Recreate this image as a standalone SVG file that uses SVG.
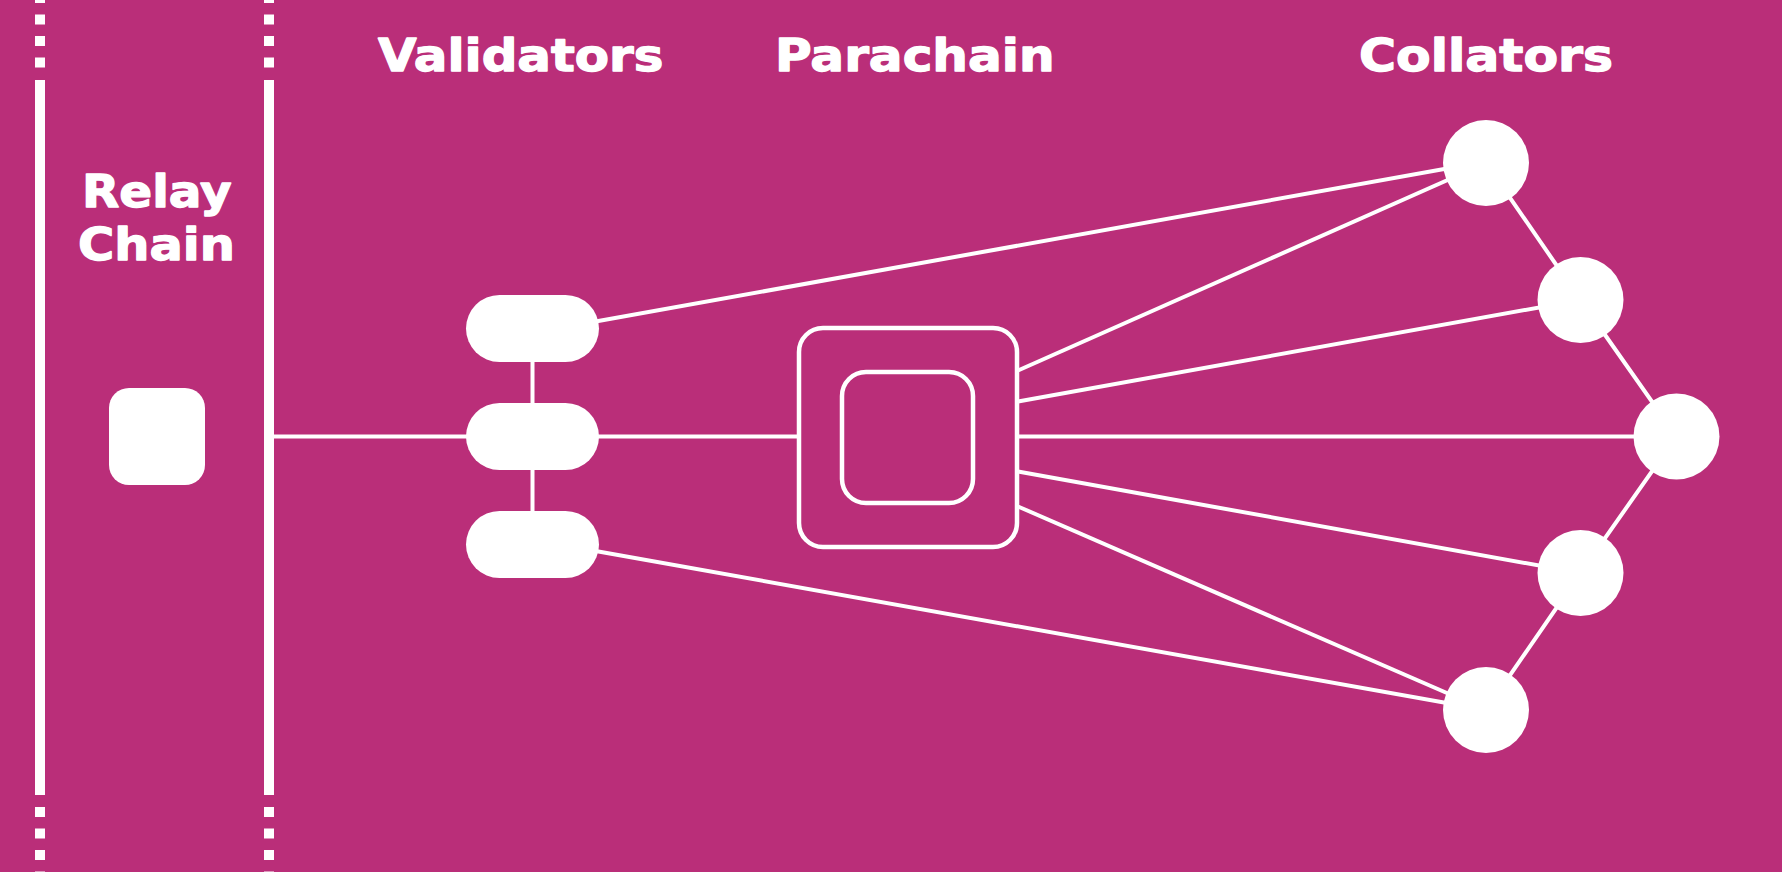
<svg xmlns="http://www.w3.org/2000/svg" width="1782" height="872" viewBox="0 0 1782 872">
  <style>
    .lbl { fill: #ffffff; stroke: #ffffff; stroke-width: 1.3; stroke-linejoin: round; font-family: "DejaVu Sans", "Liberation Sans", sans-serif; font-weight: bold; font-size: 45px; }
    .conn { stroke: #ffffff; stroke-width: 4; fill: none; stroke-linecap: butt; }
    .rail { stroke: #ffffff; stroke-width: 10; fill: none; }
    .dots { stroke: #ffffff; stroke-width: 10; fill: none; stroke-dasharray: 10 11.5; }
    .solid { fill: #ffffff; }
    .frame { fill: none; stroke: #ffffff; stroke-width: 4.5; }
  </style>
  <rect x="0" y="0" width="1782" height="872" fill="#BA2E79"/>

  <g id="rails">
    <line class="dots" x1="40" y1="-7" x2="40" y2="70"/>
    <line class="rail" x1="40" y1="80" x2="40" y2="795"/>
    <line class="dots" x1="40" y1="807" x2="40" y2="872"/>
    <line class="dots" x1="269" y1="-7" x2="269" y2="70"/>
    <line class="rail" x1="269" y1="80" x2="269" y2="795"/>
    <line class="dots" x1="269" y1="807" x2="269" y2="872"/>
  </g>

  <g id="headings">
    <text class="lbl" transform="translate(378,71) scale(1.108,1)">Validators</text>
    <text class="lbl" transform="translate(775,71) scale(1.113,1)">Parachain</text>
    <text class="lbl" transform="translate(1359,71) scale(1.121,1)">Collators</text>
  </g>

  <g id="connectors">
    <line class="conn" x1="271" y1="436.5" x2="470" y2="436.5"/>
    <line class="conn" x1="532.5" y1="340" x2="532.5" y2="540"/>
    <line class="conn" x1="590" y1="322.5" x2="1486" y2="161.5"/>
    <line class="conn" x1="590" y1="436.5" x2="800" y2="436.5"/>
    <line class="conn" x1="590" y1="550" x2="1486" y2="710"/>
    <line class="conn" x1="1018" y1="370.5" x2="1486" y2="163"/>
    <line class="conn" x1="1018" y1="401.5" x2="1580.5" y2="300"/>
    <line class="conn" x1="1018" y1="436.5" x2="1676.5" y2="436.5"/>
    <line class="conn" x1="1018" y1="471.5" x2="1580.5" y2="573"/>
    <line class="conn" x1="1018" y1="506.5" x2="1486" y2="710"/>
    <polyline class="conn" points="1486,163 1580.5,300 1676.5,436.5 1580.5,573 1486,710"/>
  </g>

  <g id="relay-chain">
    <text class="lbl" transform="translate(82,207) scale(1.078,1)">Relay</text>
    <text class="lbl" transform="translate(78,260) scale(1.098,1)">Chain</text>
    <rect class="solid" x="109" y="388" width="96" height="97" rx="20"/>
  </g>

  <g id="validator-1"><rect class="solid" x="466" y="295" width="133" height="67" rx="33.5"/></g>
  <g id="validator-2"><rect class="solid" x="466" y="403" width="133" height="67" rx="33.5"/></g>
  <g id="validator-3"><rect class="solid" x="466" y="511" width="133" height="67" rx="33.5"/></g>

  <g id="parachain">
    <rect class="frame" x="799" y="328" width="218" height="219" rx="24"/>
    <rect class="frame" x="842" y="372" width="131" height="131" rx="24"/>
  </g>

  <g id="collator-1"><circle class="solid" cx="1486" cy="163" r="43"/></g>
  <g id="collator-2"><circle class="solid" cx="1580.5" cy="300" r="43"/></g>
  <g id="collator-3"><circle class="solid" cx="1676.5" cy="436.5" r="43"/></g>
  <g id="collator-4"><circle class="solid" cx="1580.5" cy="573" r="43"/></g>
  <g id="collator-5"><circle class="solid" cx="1486" cy="710" r="43"/></g>
</svg>
